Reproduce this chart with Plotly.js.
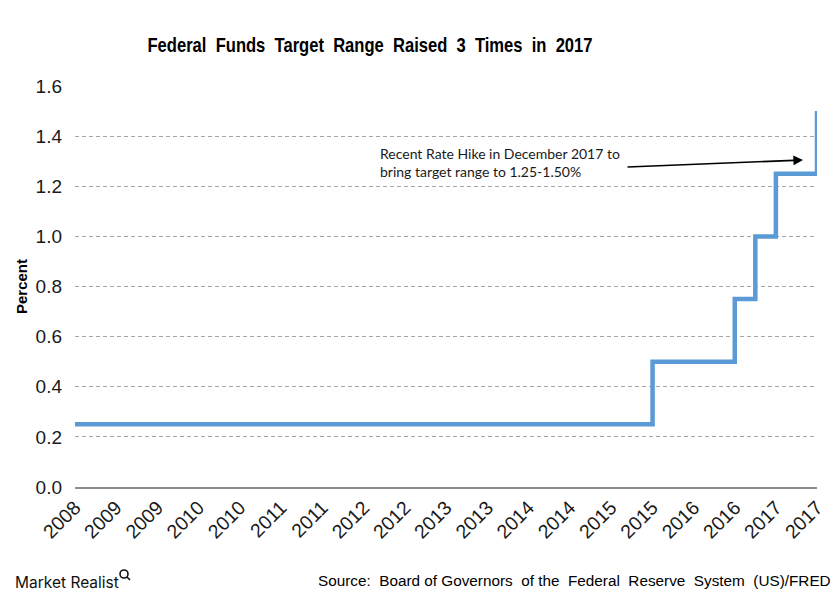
<!DOCTYPE html>
<html>
<head>
<meta charset="utf-8">
<script src="https://cdn.plot.ly/plotly-3.0.1.min.js"></script>
<style>html,body{margin:0;padding:0;background:#fff;}#chart{width:840px;height:600px;}</style>
</head>
<body>
<div id="chart"></div>
<script>
// Upper limit of the federal funds target range (step changes)
const rateDates  = ['2008-12-16', '2015-12-17', '2016-12-15', '2017-03-16', '2017-06-15', '2017-12-14'];
const rateValues = [0.25, 0.50, 0.75, 1.00, 1.25, 1.50];

// x-axis ticks (semi-annual)
const tickDates  = ['2008-12-16', '2009-06-16', '2009-12-16', '2010-06-16', '2010-12-16',
                    '2011-06-16', '2011-12-16', '2012-06-16', '2012-12-16', '2013-06-16',
                    '2013-12-16', '2014-06-16', '2014-12-16', '2015-06-16', '2015-12-16',
                    '2016-06-16', '2016-12-16', '2017-06-16', '2017-12-14'];
const tickLabels = ['2008', '2009', '2009', '2010', '2010', '2011', '2011', '2012', '2012', '2013',
                    '2013', '2014', '2014', '2015', '2015', '2016', '2016', '2017', '2017'];
const yTicks = [0, 0.2, 0.4, 0.6, 0.8, 1.0, 1.2, 1.4, 1.6];
const yTickLabels = ['0.0', '0.2', '0.4', '0.6', '0.8', '1.0', '1.2', '1.4', '1.6'];

const trace = {
  x: rateDates,
  y: rateValues,
  type: 'scatter',
  mode: 'lines',
  line: {color: '#5b9bd5', width: 4.5, shape: 'hv'},
  hoverinfo: 'x+y'
};

const layout = {
  width: 840, height: 600,
  paper_bgcolor: '#ffffff', plot_bgcolor: '#ffffff',
  margin: {l: 75, r: 23, t: 86, b: 113},
  showlegend: false,
  font: {family: 'Liberation Sans, Arial, sans-serif', color: '#1a1a1a'},
  title: {
    text: 'Federal  Funds  Target  Range  Raised  3  Times  in  2017',
    font: {family: 'Liberation Sans, Arial, sans-serif', size: 21, weight: 'bold', color: '#000'},
    x: 370 / 840, xanchor: 'center', y: 1 - 45 / 600, yanchor: 'middle'
  },
  xaxis: {
    type: 'date',
    range: ['2008-12-16', '2017-12-14'],
    tickmode: 'array', tickvals: tickDates, ticktext: tickLabels,
    tickangle: -45,
    tickfont: {size: 19.5, color: '#1a1a1a'},
    showgrid: false, zeroline: false,
    showline: true, linecolor: '#8c8c8c', linewidth: 1.5,
    ticks: '', fixedrange: true
  },
  yaxis: {
    range: [0, 1.6],
    tickmode: 'array', tickvals: yTicks, ticktext: yTickLabels,
    tickfont: {size: 19, color: '#1a1a1a'},
    ticklabelstandoff: 12,
    showgrid: true, gridcolor: '#a6a6a6', gridwidth: 1, griddash: '4px,3px',
    zeroline: false, showline: false, ticks: '',
    title: {text: 'Percent', font: {size: 15, weight: 'bold', color: '#000'}, standoff: 4},
    fixedrange: true
  },
  annotations: [
    {
      xref: 'paper', yref: 'paper', x: (378 - 75) / 742, y: (487 - 162.5) / 401,
      xanchor: 'left', yanchor: 'middle', align: 'left', showarrow: false,
      text: 'Recent Rate Hike in December 2017 to<br>bring target range to 1.25-1.50%',
      font: {family: 'Lato, Open Sans, sans-serif', size: 14, color: '#1a1a1a'}
    },
    {
      xref: 'paper', yref: 'paper', x: (803 - 75) / 742, y: (487 - 160) / 401,
      showarrow: true, text: '', ax: -177, ay: 7,
      arrowhead: 2, arrowsize: 1.2, arrowwidth: 1.6, arrowcolor: '#000'
    },
    {
      xref: 'paper', yref: 'paper', x: 1, y: 0, showarrow: false,
      text: 'Source:  Board of Governors  of the  Federal  Reserve  System  (US)/FRED',
      font: {family: 'Liberation Sans, Arial, sans-serif', size: 15.3, color: '#000'},
      xanchor: 'right', yanchor: 'middle'
    },
    {
      xref: 'paper', yref: 'paper', x: 0, y: 0, showarrow: false,
      text: 'Market Realist',
      font: {family: 'Inter, Noto Sans, sans-serif', size: 15.5, color: '#111'},
      xanchor: 'left', yanchor: 'middle'
    }
  ]
};

// position footer annotations in pixel terms (paper coords relative to plot area)
(function () {
  const pl = 75, pw = 742, pt = 86, ph = 401;
  const toPX = px => (px - pl) / pw;
  const toPY = py => (pt + ph - py) / ph;
  layout.annotations[2].x = toPX(833);
  layout.annotations[2].y = toPY(580);
  layout.annotations[3].x = toPX(13);
  layout.annotations[3].y = toPY(582);
  layout.shapes = [
    {type: 'circle', xref: 'paper', yref: 'paper',
     x0: toPX(120), x1: toPX(128), y0: toPY(578), y1: toPY(570),
     line: {color: '#111', width: 1.6}},
    {type: 'line', xref: 'paper', yref: 'paper',
     x0: toPX(127), x1: toPX(130), y0: toPY(577), y1: toPY(580),
     line: {color: '#111', width: 1.6}}
  ];
})();

Plotly.newPlot('chart', [trace], layout, {displayModeBar: false, staticPlot: true}).then(function (gd) {
  // condense the title to the narrow face used in the reference
  const title = gd.querySelector('.gtitle');
  if (title) {
    title.setAttribute('textLength', 445);
    title.setAttribute('lengthAdjust', 'spacingAndGlyphs');
  }
});
</script>
</body>
</html>
